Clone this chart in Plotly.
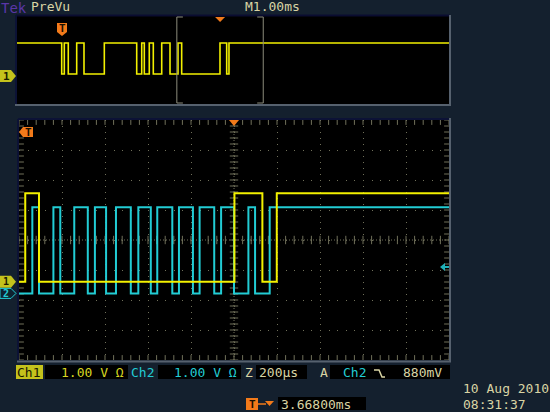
import numpy as np
import plotly.graph_objects as go

# Main window: 200 us/div, 10 divisions, trigger at centre (t = 0)
MAIN_T_RANGE_US = [-1000, 1000]
# Ch1 (yellow) edge times, starts LOW
CH1_EDGES_US = [-971, -907, 2, 132, 199]
CH1_START_HIGH = False
CH1_LEVELS_V = [0.0, 2.95]          # low, high (1.00 V/div)
CH1_OFFSET_DIV = -1.39
# Ch2 (cyan) edge times, starts LOW
CH2_EDGES_US = [-938, -907, -840, -808, -743, -680, -647, -595, -549, -480,
                -445, -387, -357, -287, -256, -191, -160, -92, -60, 0,
                67, 98, 166]
CH2_START_HIGH = False
CH2_LEVELS_V = [0.0, 2.87]
CH2_OFFSET_DIV = -1.78
CH2_TRIG_LEVEL_V = 0.88

# PreVu window: 1.00 ms/div, Ch1 only, starts HIGH
PRE_T_RANGE_MS = [-5, 5]
PRE_EDGES_MS = [-3.965, -3.905, -3.813, -3.618, -3.449, -2.979, -2.229, -2.113,
                -2.053, -1.938, -1.845, -1.650, -1.458, -1.273, -1.188, -0.301,
                -0.146, -0.093]
PRE_START_HIGH = True
PRE_LEVELS_V = [0.0, 2.95]
PRE_Y_RANGE_V = [-2.86, 5.52]
ZOOM_CENTER_MS = -0.30
ZOOM_WIDTH_MS = 2.0

# status texts
CH1_SCALE = "1.00 V Ω"
CH2_SCALE = "1.00 V Ω"
TIMEBASE = "200µs"
TRIG_LEVEL = "880mV"
TRIG_POS = "3.66800ms"
DATE_TXT = "10 Aug 2010"
TIME_TXT = "08:31:37"
PREVU_TB = "M1.00ms"

# ---------------- helpers ----------------
W, H = 550, 412
def fx(x): return x / W
def fy(y): return 1 - y / H

def steps(edges, start_high, levels, t_range, offset=0.0):
    xs = [t_range[0]] + list(edges) + [t_range[1]]
    state = start_high
    ys = []
    for i in range(len(xs) - 1):
        ys.append(levels[1] if state else levels[0])
        state = not state
    ys.append(ys[-1])
    return xs, [v + offset for v in ys]

BG = "#14202e"
YEL = "#f2f000"
CYA = "#22ccd4"
BEIGE = "#d9d4a4"
GRID = "#70705a"
ORANGE = "#f27a1a"
FONT = "DejaVu Sans Mono"

fig = go.Figure()

# main traces
x1, y1 = steps(CH1_EDGES_US, CH1_START_HIGH, CH1_LEVELS_V, MAIN_T_RANGE_US, CH1_OFFSET_DIV)
x2, y2 = steps(CH2_EDGES_US, CH2_START_HIGH, CH2_LEVELS_V, MAIN_T_RANGE_US, CH2_OFFSET_DIV)

# graticule ticks (centre cross + edges)
minor_x = np.arange(-1000, 1000.1, 40)
minor_y = np.arange(-4, 4.01, 0.2)
tick_style = dict(mode="markers", hoverinfo="skip", showlegend=False, cliponaxis=True)
fig.add_trace(go.Scatter(x=minor_x, y=np.zeros_like(minor_x),
                         marker=dict(symbol="line-ns", size=6, line=dict(color=GRID, width=1)), **tick_style))
fig.add_trace(go.Scatter(x=np.zeros_like(minor_y), y=minor_y,
                         marker=dict(symbol="line-ew", size=6, line=dict(color=GRID, width=1)), **tick_style))
for yy in (-4, 4):
    fig.add_trace(go.Scatter(x=minor_x, y=np.full_like(minor_x, yy),
                             marker=dict(symbol="line-ns", size=7, line=dict(color=GRID, width=1)), **tick_style))
for xx in (-1000, 1000):
    fig.add_trace(go.Scatter(x=np.full_like(minor_y, xx), y=minor_y,
                             marker=dict(symbol="line-ew", size=7, line=dict(color=GRID, width=1)), **tick_style))

fig.add_trace(go.Scatter(x=x2, y=y2, mode="lines", line=dict(color=CYA, width=2, shape="hv"),
                         showlegend=False, hoverinfo="skip"))
fig.add_trace(go.Scatter(x=x1, y=y1, mode="lines", line=dict(color=YEL, width=2, shape="hv"),
                         showlegend=False, hoverinfo="skip"))

# preview trace
xp, yp = steps(PRE_EDGES_MS, PRE_START_HIGH, PRE_LEVELS_V, PRE_T_RANGE_MS)
fig.add_trace(go.Scatter(x=xp, y=yp, mode="lines", line=dict(color=YEL, width=1.6, shape="hv"),
                         xaxis="x2", yaxis="y2", showlegend=False, hoverinfo="skip"))

shapes = []
def line(x0, y0, x1_, y1_, color, width=1, dash=None):
    d = dict(type="line", xref="paper", yref="paper", x0=fx(x0), y0=fy(y0), x1=fx(x1_), y1=fy(y1_),
             line=dict(color=color, width=width))
    if dash:
        d["line"]["dash"] = dash
    shapes.append(d)
def rect(x0, y0, x1_, y1_, fill, lc=None, lw=0):
    shapes.append(dict(type="rect", xref="paper", yref="paper", x0=fx(x0), y0=fy(y0), x1=fx(x1_), y1=fy(y1_),
                       fillcolor=fill, line=dict(color=lc or fill, width=lw), layer="above"))
def path(pts, fill, lc=None, lw=0):
    p = "M " + " L ".join(f"{fx(a):.5f},{fy(b):.5f}" for a, b in pts) + " Z"
    shapes.append(dict(type="path", xref="paper", yref="paper", path=p, fillcolor=fill,
                       line=dict(color=lc or fill, width=lw), layer="above"))

# centre cross dotted lines
shapes.append(dict(type="line", xref="x", yref="y", x0=-1000, x1=1000, y0=0, y1=0,
                   line=dict(color=GRID, width=1, dash="1px,2px"), layer="below"))
shapes.append(dict(type="line", xref="x", yref="y", x0=0, x1=0, y0=-4, y1=4,
                   line=dict(color=GRID, width=1, dash="1px,2px"), layer="below"))

# frames (bevel look)
line(18, 119, 450, 119, "#0c1236", 2)
line(18, 119, 18, 361, "#0c1236", 2)
line(450, 118, 450, 362, "#56616e", 2)
line(17, 361.5, 451, 361.5, "#56616e", 2)
line(16, 15.5, 450, 15.5, "#0a0c30", 2)
line(16, 15, 16, 105, "#0c1236", 2)
line(450, 15, 450, 105, "#56616e", 2)
line(15, 105, 451, 105, "#56616e", 2)

# preview zoom bracket
zl, zr = ZOOM_CENTER_MS - ZOOM_WIDTH_MS / 2, ZOOM_CENTER_MS + ZOOM_WIDTH_MS / 2
for xv, dx in ((zl, 1), (zr, -1)):
    shapes.append(dict(type="line", xref="x2", yref="paper", x0=xv, x1=xv, y0=fy(103), y1=fy(17),
                       line=dict(color="#8c8c7c", width=1)))
    for yv in (17, 103):
        shapes.append(dict(type="line", xref="x2", yref="paper", x0=xv, x1=xv + dx * 0.14,
                           y0=fy(yv), y1=fy(yv), line=dict(color="#8c8c7c", width=1)))
# preview trigger triangle at zoom centre
cpx = 17 + (ZOOM_CENTER_MS - PRE_T_RANGE_MS[0]) / (PRE_T_RANGE_MS[1] - PRE_T_RANGE_MS[0]) * 432
path([(cpx - 5, 17), (cpx + 5, 17), (cpx, 22)], ORANGE)
# preview T marker
path([(57, 23), (67, 23), (67, 32), (62, 36), (57, 32)], ORANGE)
# main trigger triangle
path([(229, 120), (239, 120), (234, 126)], ORANGE)
# main T marker (points left)
path([(19, 132), (23, 127), (33, 127), (33, 137), (23, 137)], ORANGE)

# channel markers (ground levels)
ch1_px = 240 + (-CH1_OFFSET_DIV) * 30
ch2_px = 240 + (-CH2_OFFSET_DIV) * 30
path([(0, ch1_px - 6), (11, ch1_px - 6), (16, ch1_px), (11, ch1_px + 6), (0, ch1_px + 6)], "#c4c21c")
path([(0, ch2_px - 5), (11, ch2_px - 5), (16, ch2_px), (11, ch2_px + 5), (0, ch2_px + 5)], "#0f2230", CYA, 1)
path([(0, 70), (11, 70), (16, 76), (11, 82), (0, 82)], "#c4c21c")
# trigger level arrow (right side)
tl_px = ch2_px - CH2_TRIG_LEVEL_V * 30
path([(440, tl_px), (445, tl_px - 4), (445, tl_px + 4)], "#1fb0b8")
line(444, tl_px, 449, tl_px, "#1fb0b8", 2)

# status bar boxes
rect(16, 365, 43, 379, "#c4c21c")
rect(45, 365, 128, 379, "#000000")
rect(158, 365, 241, 379, "#000000")
rect(256, 365, 307, 379, "#000000")
rect(330, 365, 450, 379, "#000000")
rect(278, 397, 366, 410, "#000000")
rect(246, 398, 258, 410, ORANGE)
line(258, 404, 266, 404, ORANGE, 1.5)
path([(265, 401), (274, 401), (269.5, 406)], ORANGE)
# trigger slope symbol (falling)
shapes.append(dict(type="path", xref="paper", yref="paper",
                   path=f"M {fx(374):.5f},{fy(370):.5f} L {fx(379):.5f},{fy(370):.5f} L {fx(382):.5f},{fy(377):.5f} L {fx(385):.5f},{fy(377):.5f}",
                   line=dict(color=BEIGE, width=1.5), layer="above"))

annos = []
def txt(x, y, s, color, size=13, anchor="left", bold=False):
    if bold:
        s = f"<b>{s}</b>"
    annos.append(dict(xref="paper", yref="paper", x=fx(x), y=fy(y), text=s, showarrow=False,
                      xanchor=anchor, yanchor="middle", borderpad=0,
                      font=dict(family=FONT, size=size, color=color)))

txt(0, 8, "Tek", "#5a36a6", 14)
txt(30, 7, "PreVu", BEIGE, 13)
txt(244, 7, PREVU_TB, BEIGE, 13)
txt(62, 29, "T", "#1a1000", 11, "center", True)
txt(28, 132, "T", "#1a1000", 11, "center", True)
txt(252, 404, "T", "#1a1000", 11, "center", True)
txt(6, ch1_px, "1", "#1a1a00", 10, "center", True)
txt(6, ch2_px, "2", CYA, 10, "center", True)
txt(6, 76, "1", "#1a1a00", 11, "center", True)
txt(16, 372, "Ch1", "#1a1a00", 13)
txt(60, 372, CH1_SCALE, "#d8d620", 13)
txt(130, 372, "Ch2", CYA, 13)
txt(173, 372, CH2_SCALE, CYA, 13)
txt(244, 372, "Z", BEIGE, 13)
txt(258, 372, TIMEBASE, BEIGE, 13)
txt(319, 372, "A", BEIGE, 13)
txt(342, 372, "Ch2", CYA, 13)
txt(402, 372, TRIG_LEVEL, BEIGE, 13)
txt(280, 404, TRIG_POS, BEIGE, 13)
txt(462, 388, DATE_TXT, BEIGE, 13)
txt(462, 404, TIME_TXT, BEIGE, 13)

ax_common = dict(showticklabels=False, ticks="", zeroline=False, showline=False, fixedrange=True)
fig.update_layout(
    width=W, height=H, autosize=False,
    margin=dict(l=0, r=0, t=0, b=0),
    paper_bgcolor=BG, plot_bgcolor="#000000",
    showlegend=False,
    xaxis=dict(domain=[fx(19), fx(449)], range=MAIN_T_RANGE_US, dtick=200, tick0=0,
               showgrid=True, gridcolor=GRID, griddash="1px,5px", gridwidth=1, **ax_common),
    yaxis=dict(domain=[fy(360), fy(120)], range=[-4, 4], dtick=1, tick0=0,
               showgrid=True, gridcolor=GRID, griddash="1px,7.6px", gridwidth=1, **ax_common),
    xaxis2=dict(domain=[fx(17), fx(449)], range=PRE_T_RANGE_MS, showgrid=False, anchor="y2", **ax_common),
    yaxis2=dict(domain=[fy(104), fy(16)], range=PRE_Y_RANGE_V, showgrid=False, anchor="x2", **ax_common),
    shapes=shapes, annotations=annos,
)

fig.write_html("out.html", config={"displayModeBar": False},
               post_script="document.body.style.margin='0';")
